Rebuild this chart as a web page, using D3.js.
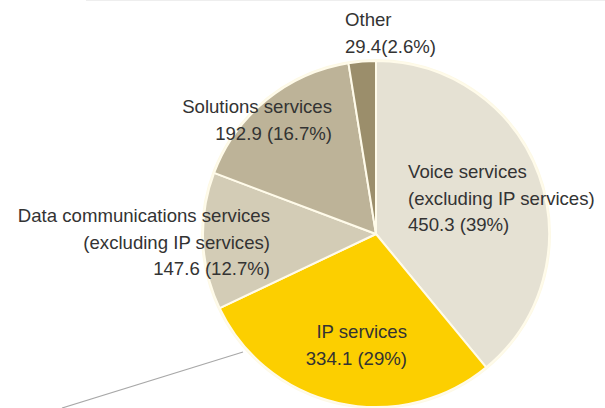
<!DOCTYPE html>
<html>
<head>
<meta charset="utf-8">
<script src="https://cdn.jsdelivr.net/npm/d3@7"></script>
<style>
  body { margin: 0; background: #fff; }
  svg text { font-family: "Liberation Sans", Arial, sans-serif; fill: #333333; }
</style>
</head>
<body>
<div id="chart"></div>
<script>
// revenue by service (billions of yen)
const categories = ["Voice services", "IP services", "Data communications services", "Solutions services", "Other"];
const values = [450.3, 334.1, 147.6, 192.9, 29.4];
const shares = ["39%", "29%", "12.7%", "16.7%", "2.6%"];
const colors = ["#e5e1d3", "#fccf00", "#d3ccb6", "#bdb398", "#9b8e6b"];

// label lines per slice
const labelLines = [
  ["Voice services", "(excluding IP services)", "450.3 (39%)"],
  ["IP services", "334.1 (29%)"],
  ["Data communications services", "(excluding IP services)", "147.6 (12.7%)"],
  ["Solutions services", "192.9 (16.7%)"],
  ["Other", "29.4(2.6%)"]
];

const width = 605, height = 408;
const cx = 376, cy = 234, r = 173;

const svg = d3.select("#chart").append("svg")
  .attr("width", width)
  .attr("height", height);

// faint rule at the very top
svg.append("line")
  .attr("x1", 86).attr("x2", width)
  .attr("y1", 0.5).attr("y2", 0.5)
  .attr("stroke", "#eeeeee")
  .attr("stroke-width", 1);

const pie = d3.pie().sort(null).value(d => d);
const arcs = pie(values);
const arc = d3.arc().innerRadius(0).outerRadius(r);

const g = svg.append("g").attr("transform", `translate(${cx},${cy})`);

// soft cream rim around the pie
g.append("circle")
  .attr("r", r + 1)
  .attr("fill", "none")
  .attr("stroke", "#fdf9e6")
  .attr("stroke-width", 2);

g.selectAll("path")
  .data(arcs)
  .join("path")
    .attr("d", arc)
    .attr("fill", (d, i) => colors[i])
    .attr("stroke", "#fffbea")
    .attr("stroke-width", 2)
    .attr("stroke-linejoin", "round");

// leader line bottom left
svg.append("line")
  .attr("x1", 62).attr("y1", 408)
  .attr("x2", 243).attr("y2", 352)
  .attr("stroke", "#a8a8a8")
  .attr("stroke-width", 1.2);

// label placement: x, first baseline, anchor
const labelPos = [
  { x: 408, y: 178, anchor: "start" },
  { x: 407, y: 338, anchor: "end" },
  { x: 270, y: 222, anchor: "end" },
  { x: 332, y: 113, anchor: "end" },
  { x: 345, y: 26, anchor: "start" }
];
const lineH = 26.5;

labelLines.forEach((lines, i) => {
  const p = labelPos[i];
  const t = svg.append("text")
    .attr("x", p.x)
    .attr("y", p.y)
    .attr("text-anchor", p.anchor)
    .attr("font-size", "18.6px");
  lines.forEach((s, j) => {
    t.append("tspan")
      .attr("x", p.x)
      .attr("dy", j === 0 ? 0 : lineH)
      .text(s);
  });
});
</script>
</body>
</html>
